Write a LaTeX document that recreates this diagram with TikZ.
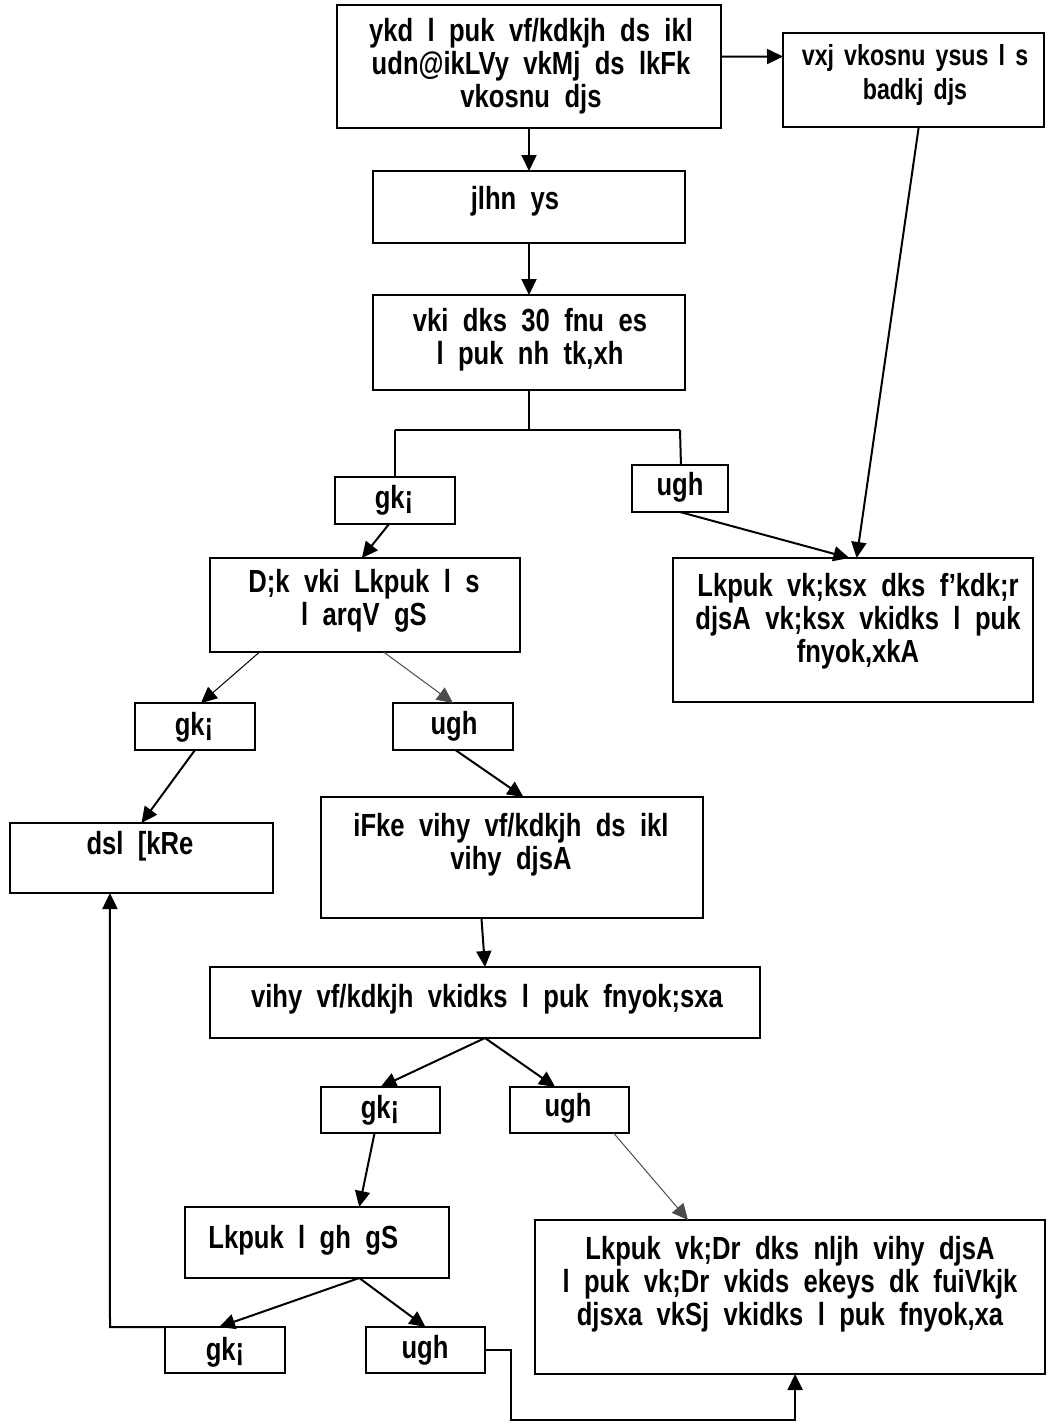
\documentclass[tikz,border=0pt]{standalone}
\usepackage{fontspec}
\setmainfont{Liberation Sans}[FakeStretch=0.8]
\usetikzlibrary{arrows.meta,calc}
\newcommand\txtfont{\fontsize{16}{16.5}\selectfont\bfseries\spaceskip 0.45em\relax}
\newcommand\txtfontsmall{\fontsize{14.5}{17}\selectfont\bfseries\spaceskip 0.35em\relax}
\tikzset{
  box/.style={draw=black, line width=1.3pt, inner sep=0pt, outer sep=0pt, fill=white},
  txt/.style={align=center, inner sep=0pt, font=\txtfont},
  conn/.style={line width=1pt, -{Triangle[length=8pt,width=7.5pt]}},
  thin/.style={line width=0.5pt, draw=black!70, -{Triangle[length=8pt,width=7.5pt]}},
  plain/.style={line width=1pt},
}
\newcommand\bx[5]{\node[box, minimum width={(#4-#2)*0.5pt}, minimum height={(#5-#3)*0.5pt}] (#1) at ({(#2+#4)/2},{(#3+#5)/2}) {};}
\begin{document}
\begin{tikzpicture}[x=0.5pt,y=-0.5pt]
\useasboundingbox (0,0) rectangle (1058,1425);
% boxes
\bx{top}{337}{5}{721}{128}
\bx{rtop}{783}{33}{1044}{127}
\bx{rcpt}{373}{171}{685}{243}
\bx{thirty}{373}{295}{685}{390}
\bx{yesA}{335}{477}{455}{524}
\bx{noA}{632}{465}{728}{512}
\bx{sat}{210}{558}{520}{652}
\bx{rbig}{673}{558}{1033}{702}
\bx{yesB}{135}{703}{255}{750}
\bx{noB}{393}{703}{513}{750}
\bx{close}{10}{823}{273}{893}
\bx{appeal}{321}{797}{703}{918}
\bx{aoff}{210}{967}{760}{1038}
\bx{yesC}{321}{1087}{440}{1133}
\bx{noC}{510}{1087}{629}{1133}
\bx{right}{185}{1207}{449}{1278}
\bx{second}{535}{1220}{1045}{1374}
\bx{yesD}{165}{1327}{285}{1373}
\bx{noD}{366}{1327}{485}{1373}
% texts
\node[txt] (t1) at (531,66) {ykd l puk vf/kdkjh ds ikl\\udn@ikLVy vkMj ds lkFk\\vkosnu djs};
\node[txt,font=\txtfontsmall] (t2) at (915,75) {vxj vkosnu ysus l s\\badkj djs};
\node[txt] (t3) at (515,201) {jlhn ys};
\node[txt] (t4) at (530,340) {vki dks 30 fnu es\\l puk nh tk,xh};
\node[txt] (t5) at (394,500) {gk¡};
\node[txt] (t6) at (680,487) {ugh};
\node[txt] (t7) at (364,601) {D;k vki Lkpuk l s\\l arqV gS};
\node[txt] (t8) at (858,621) {Lkpuk vk;ksx dks f'kdk;r\\djsA vk;ksx vkidks l puk\\fnyok,xkA};
\node[txt] (t9) at (194,727) {gk¡};
\node[txt] (t10) at (454,726) {ugh};
\node[txt] (t11) at (140,846) {dsl [kRe};
\node[txt] (t12) at (511,845) {iFke vihy vf/kdkjh ds ikl\\vihy djsA};
\node[txt] (t13) at (487,999) {vihy vf/kdkjh vkidks l puk fnyok;sxa};
\node[txt] (t14) at (380,1110) {gk¡};
\node[txt] (t15) at (568,1108) {ugh};
\node[txt,anchor=west] (t16) at (208,1240) {Lkpuk l gh gS};
\node[txt] (t17) at (790,1284) {Lkpuk vk;Dr dks nljh vihy djsA\\l puk vk;Dr vkids ekeys dk fuiVkjk\\djsxa vkSj vkidks l puk fnyok,xa};
\node[txt] (t18) at (225,1352) {gk¡};
\node[txt] (t19) at (425,1350) {ugh};
% connectors
\draw[conn] ($(top.south west)!0.5!(top.south east)$) -- (rcpt.north -| top.south);
\draw[conn] ($(top.north east)!0.42!(top.south east)$) -- ($(rtop.north west)!0.25!(rtop.south west)$);
\draw[conn] (rcpt.south) -- (thirty.north);
\draw[plain] (thirty.south) -- ++(0,40) coordinate (j1);
\draw[plain] (j1 -| yesA.north) -- (j1 -| noA.north);
\draw[plain] (j1 -| yesA.north) -- ($(yesA.north west)!0.5!(yesA.north east)$);
\draw[plain] (j1 -| noA.north) -- ($(noA.north west)!0.51!(noA.north east)$);
\draw[conn] ($(rtop.south west)!0.52!(rtop.south east)$) -- ($(rbig.north west)!0.51!(rbig.north east)$);
\draw[conn] ($(noA.south west)!0.5!(noA.south east)$) -- ($(rbig.north west)!0.49!(rbig.north east)$);
\draw[conn] ($(yesA.south west)!0.45!(yesA.south east)$) -- ($(sat.north west)!0.49!(sat.north east)$);
\draw[thin,draw=black] ($(sat.south west)!0.16!(sat.south east)$) -- ($(yesB.north west)!0.55!(yesB.north east)$);
\draw[thin] ($(sat.south west)!0.56!(sat.south east)$) -- ($(noB.north west)!0.5!(noB.north east)$);
\draw[conn] ($(yesB.south west)!0.5!(yesB.south east)$) -- ($(close.north west)!0.5!(close.north east)$);
\draw[conn] ($(noB.south west)!0.52!(noB.south east)$) -- ($(appeal.north west)!0.53!(appeal.north east)$);
\draw[conn] ($(appeal.south west)!0.42!(appeal.south east)$) -- ($(aoff.north west)!0.5!(aoff.north east)$);
\draw[conn] ($(aoff.south west)!0.5!(aoff.south east)$) -- ($(yesC.north west)!0.5!(yesC.north east)$);
\draw[conn] ($(aoff.south west)!0.5!(aoff.south east)$) -- ($(noC.north west)!0.38!(noC.north east)$);
\draw[conn] ($(yesC.south west)!0.45!(yesC.south east)$) -- ($(right.north west)!0.66!(right.north east)$);
\draw[thin] ($(noC.south west)!0.87!(noC.south east)$) -- ($(second.north west)!0.3!(second.north east)$);
\draw[conn] ($(right.south west)!0.66!(right.south east)$) -- ($(yesD.north west)!0.45!(yesD.north east)$);
\draw[conn] ($(right.south west)!0.66!(right.south east)$) -- ($(noD.north west)!0.5!(noD.north east)$);
\draw[conn] (yesD.north west) -- ++(-55,0) -- ($(close.south west)!0.38!(close.south east)$);
\draw[conn] ($(noD.north east)!0.5!(noD.south east)$) -- ++(26,0) -- ++(0,70) -| ($(second.south west)!0.51!(second.south east)$);
\end{tikzpicture}
\end{document}
